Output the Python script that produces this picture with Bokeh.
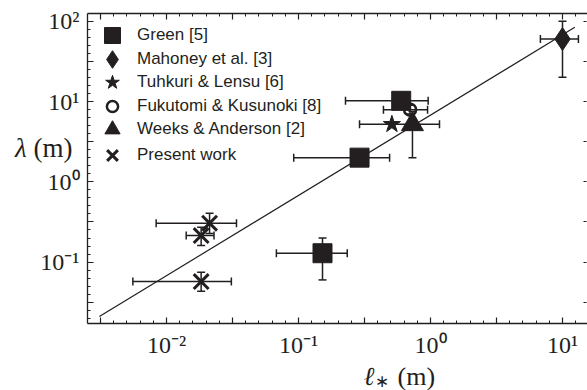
import numpy as np
from bokeh.plotting import figure
from bokeh.models import (ColumnDataSource, Whisker, TeeHead, FixedTicker, LogAxis,
                          Legend, LegendItem, Label, Range1d)
from bokeh.embed import file_html
from bokeh.resources import INLINE

# ---------------- data ----------------
green_x = [0.60, 0.29, 0.152]
green_y = [10.2, 2.0, 0.129]
green_xlo = [0.227, 0.092, 0.068]
green_xhi = [0.96, 0.49, 0.234]
green_ylo = [10.2, 2.0, 0.060]
green_yhi = [10.2, 2.0, 0.199]

mahoney_x = [10.0]
mahoney_y = [60.0]
mahoney_xlo = [6.8]
mahoney_xhi = [13.2]
mahoney_ylo = [20.0]
mahoney_yhi = [100.0]

tuhkuri_x = [0.51]
tuhkuri_y = [5.2]

fukutomi_x = [0.70]
fukutomi_y = [7.9]
fukutomi_xlo = [0.44]
fukutomi_xhi = [0.95]
fukutomi_ylo = [7.0]
fukutomi_yhi = [9.0]

weeks_x = [0.73]
weeks_y = [5.2]
weeks_xlo = [0.29]
weeks_xhi = [1.17]
weeks_ylo = [2.0]
weeks_yhi = [7.5]

present_x = [0.0212, 0.0183, 0.0183]
present_y = [0.305, 0.214, 0.0573]
present_xlo = [0.00835, 0.0141, 0.00556]
present_xhi = [0.0339, 0.0229, 0.031]
present_ylo = [0.227, 0.161, 0.0434]
present_yhi = [0.406, 0.272, 0.0748]

fit_x = [0.0031, 12.4]
fit_y = [0.021, 84.0]

x_major = [0.01, 0.1, 1.0, 10.0]
x_major_labels = ["10⁻²", "10⁻¹", "10⁰", "10¹"]
y_major = [0.1, 1.0, 10.0, 100.0]
y_major_labels = ["10⁻¹", "10⁰", "10¹", "10²"]

legend_labels = ["Green [5]", "Mahoney et al. [3]", "Tuhkuri & Lensu [6]",
                 "Fukutomi & Kusunoki [8]", "Weeks & Anderson [2]", "Present work"]

INK = "#231f20"

# axes box limits (data) and full frame limits
X_LO, X_HI = 10 ** -2.598, 10 ** 1.1894
Y_LO, Y_HI = 10 ** -1.767, 10 ** 2.096

p = figure(width=587, height=390, x_axis_type="log", y_axis_type="log",
           x_range=Range1d(10 ** -3.2576, 10 ** 1.1894),
           y_range=Range1d(10 ** -2.599, 10 ** 2.1208),
           output_backend="svg", toolbar_location=None,
           min_border_left=0, min_border_right=0, min_border_top=11, min_border_bottom=0)
p.xgrid.visible = False
p.ygrid.visible = False
p.outline_line_color = None
p.background_fill_color = "white"
p.border_fill_color = "white"

# ticks: decades labelled, half decades unlabelled, minor every 0.1 decade
x_half = [10 ** (k + 0.5) for k in range(-3, 2)]
y_half = [10 ** (k + 0.5) for k in range(-2, 2)]
x_minor = list(10 ** np.arange(-2.5, 1.15, 0.1))
y_minor = list(10 ** np.arange(-1.7, 2.05, 0.1))
x_ticker = FixedTicker(ticks=x_major + x_half, minor_ticks=x_minor)
y_ticker = FixedTicker(ticks=y_major + y_half, minor_ticks=y_minor)
x_over = {v: s for v, s in zip(x_major, x_major_labels)}
x_over.update({v: "" for v in x_half})
y_over = {v: s for v, s in zip(y_major, y_major_labels)}
y_over.update({v: "" for v in y_half})


def style(ax):
    ax.axis_line_color = INK
    ax.axis_line_width = 1.3
    ax.major_tick_line_color = INK
    ax.minor_tick_line_color = INK
    ax.major_tick_line_width = 1.2
    ax.minor_tick_line_width = 1.0
    ax.major_tick_in = 6
    ax.major_tick_out = 0
    ax.minor_tick_in = 3
    ax.minor_tick_out = 0
    ax.major_label_text_font = "Liberation Serif"
    ax.major_label_text_font_size = "24px"
    ax.major_label_text_color = INK


xa = p.xaxis[0]
xa.ticker = x_ticker
xa.major_label_overrides = x_over
xa.fixed_location = Y_LO
xa.bounds = (X_LO, X_HI)
style(xa)
xa.major_label_standoff = 8

ya = p.yaxis[0]
ya.ticker = y_ticker
ya.major_label_overrides = y_over
ya.fixed_location = X_LO
ya.bounds = (Y_LO, Y_HI)
style(ya)
ya.major_label_standoff = 8

top = LogAxis(ticker=x_ticker, major_label_overrides={v: "" for v in x_major + x_half},
              fixed_location=Y_HI, bounds=(X_LO, X_HI))
style(top)
top.major_label_text_font_size = "0px"
p.add_layout(top, "above")

right = LogAxis(ticker=FixedTicker(ticks=y_major + y_half, minor_ticks=[]),
                major_label_overrides={v: "" for v in y_major + y_half},
                fixed_location=10 ** 1.1856, bounds=(Y_LO, Y_HI))
style(right)
right.axis_line_color = None
right.major_tick_in = 3
right.major_label_text_font_size = "0px"
p.add_layout(right, "right")

# fit line
p.line(fit_x, fit_y, line_color=INK, line_width=1.2)


def errbars(x, y, xlo, xhi, ylo=None, yhi=None):
    src = ColumnDataSource(dict(x=x, y=y, xlo=xlo, xhi=xhi,
                                ylo=ylo if ylo else y, yhi=yhi if yhi else y))
    for dim, base, lo, hi in (("width", "y", "xlo", "xhi"), ("height", "x", "ylo", "yhi")):
        w = Whisker(source=src, base=base, lower=lo, upper=hi, dimension=dim,
                    line_color=INK, line_width=1.5,
                    upper_head=TeeHead(size=8, line_color=INK, line_width=1.5),
                    lower_head=TeeHead(size=8, line_color=INK, line_width=1.5))
        p.add_layout(w)


errbars(green_x[2:], green_y[2:], green_xlo[2:], green_xhi[2:], green_ylo[2:], green_yhi[2:])
errbars(green_x[:2], green_y[:2], green_xlo[:2], green_xhi[:2])
errbars(mahoney_x, mahoney_y, mahoney_xlo, mahoney_xhi, mahoney_ylo, mahoney_yhi)
errbars(fukutomi_x, fukutomi_y, fukutomi_xlo, fukutomi_xhi, fukutomi_ylo, fukutomi_yhi)
errbars(weeks_x, weeks_y, weeks_xlo, weeks_xhi, weeks_ylo, weeks_yhi)
errbars(present_x, present_y, present_xlo, present_xhi, present_ylo, present_yhi)

r_green = p.scatter(green_x, green_y, marker="square", size=19, fill_color=INK, line_color=INK)
r_mah = p.scatter(mahoney_x, mahoney_y, marker="diamond", size=23, fill_color=INK, line_color=INK)
r_tuh = p.scatter(tuhkuri_x, tuhkuri_y, marker="star", size=18, fill_color=INK, line_color=INK)
r_fuk = p.scatter(fukutomi_x, fukutomi_y, marker="circle", size=12, fill_color=None,
                  line_color=INK, line_width=2.5)
r_wee = p.scatter(weeks_x, weeks_y, marker="triangle", size=22, fill_color=INK, line_color=INK)
r_pre = p.scatter(present_x, present_y, marker="x", size=21, line_color=INK, line_width=3)

# legend: one single-row legend per entry so that key size and row pitch match
FRAME_BOTTOM = 390
row_centres = [35, 58.5, 82, 106, 129, 155]
key_heights = [40, 44, 36, 28, 38, 38]
key_widths = [40, 44, 40, 40, 40, 40]
for text, rend, yc, kh, kw in zip(legend_labels, [r_green, r_mah, r_tuh, r_fuk, r_wee, r_pre],
                                  row_centres, key_heights, key_widths):
    lg = Legend(items=[LegendItem(label=text, renderers=[rend])],
                location=(112 - kw / 2, FRAME_BOTTOM - yc - kh / 2),
                glyph_width=kw, glyph_height=kh,
                padding=0, margin=0, label_standoff=int(25 - kw / 2), spacing=0,
                label_text_font="Liberation Sans", label_text_font_size="17px",
                label_text_color=INK, background_fill_alpha=0, border_line_color=None)
    p.add_layout(lg)

# axis titles
lab_font = "Liberation Serif"
p.add_layout(Label(x=10 ** -3.06, y=10 ** 0.427, text="λ", text_align="right",
                   text_baseline="middle", text_font=lab_font, text_font_style="italic",
                   text_font_size="27px", text_color=INK))
p.add_layout(Label(x=10 ** -2.712, y=10 ** 0.427, text="(m)", text_align="right",
                   text_baseline="middle", text_font=lab_font,
                   text_font_size="27px", text_color=INK))
p.add_layout(Label(x=10 ** -0.508, y=10 ** -2.425, text="ℓ", text_align="left",
                   text_baseline="middle", text_font=lab_font, text_font_style="italic",
                   text_font_size="26px", text_color=INK))
p.add_layout(Label(x=10 ** -0.417, y=10 ** -2.487, text="∗", text_align="left",
                   text_baseline="middle", text_font=lab_font,
                   text_font_size="17px", text_color=INK))
p.add_layout(Label(x=10 ** -0.25, y=10 ** -2.425, text="(m)", text_align="left",
                   text_baseline="middle", text_font=lab_font,
                   text_font_size="26px", text_color=INK))

open("out.html", "w").write(file_html(p, INLINE))
